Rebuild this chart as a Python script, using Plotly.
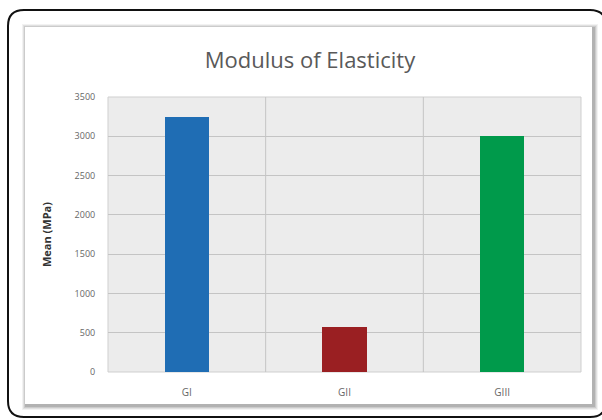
import plotly.graph_objects as go

categories = ["GI", "GII", "GIII"]
values = [3240, 575, 3010]
colors = ["#1f6db4", "#9a1f22", "#009a4b"]
y_ticks = [0, 500, 1000, 1500, 2000, 2500, 3000, 3500]

W, H = 602, 420
L, R, T, B = 108, 21, 97, 48
pw, ph = W - L - R, H - T - B

def px(x):
    return (x - L) / pw

def py(y):
    return (H - B - y) / ph

fig = go.Figure()
fig.add_trace(go.Bar(
    x=categories, y=values,
    marker=dict(color=colors, line=dict(width=0)),
    width=0.28,
))

shapes = []
# outer rounded frame
x0, y0, x1, y1, r = 8, 10, 606, 417, 16
path = (f"M {px(x0 + r)},{py(y0)} L {px(x1 - r)},{py(y0)} "
        f"Q {px(x1)},{py(y0)} {px(x1)},{py(y0 + r)} L {px(x1)},{py(y1 - r)} "
        f"Q {px(x1)},{py(y1)} {px(x1 - r)},{py(y1)} L {px(x0 + r)},{py(y1)} "
        f"Q {px(x0)},{py(y1)} {px(x0)},{py(y1 - r)} L {px(x0)},{py(y0 + r)} "
        f"Q {px(x0)},{py(y0)} {px(x0 + r)},{py(y0)} Z")
shapes.append(dict(type="path", xref="paper", yref="paper", path=path,
                   line=dict(color="#111111", width=2), fillcolor="white", layer="below"))
# card shadow
for i, op in enumerate([0.05, 0.07, 0.09, 0.12]):
    d = 4 - i
    shapes.append(dict(type="rect", xref="paper", yref="paper",
                       x0=px(25 - d + 1), x1=px(593 + d + 1), y0=py(27 - d + 1), y1=py(405 + d + 1),
                       line=dict(width=0), fillcolor=f"rgba(0,0,0,{op})", layer="below"))
# card
shapes.append(dict(type="rect", xref="paper", yref="paper",
                   x0=px(25), x1=px(592), y0=py(27), y1=py(404),
                   line=dict(width=0), fillcolor="white", layer="below"))
# plot background
shapes.append(dict(type="rect", xref="paper", yref="paper", x0=0, x1=1, y0=0, y1=1,
                   line=dict(color="#cfcfcf", width=1), fillcolor="#ececec", layer="below"))
# vertical category separators
for xv in [0.5, 1.5]:
    shapes.append(dict(type="line", xref="x", yref="paper", x0=xv, x1=xv, y0=0, y1=1,
                       line=dict(color="#c4c4c4", width=1), layer="below"))

fig.update_layout(
    width=W, height=H,
    margin=dict(l=L, r=R, t=T, b=B),
    paper_bgcolor="white",
    plot_bgcolor="rgba(0,0,0,0)",
    shapes=shapes,
    showlegend=False,
    bargap=0,
    title=dict(text="Modulus of Elasticity", x=(310) / W, xanchor="center",
               y=1 - 60 / H, yanchor="middle",
               font=dict(family="Open Sans, sans-serif", size=22, color="#595959")),
    xaxis=dict(type="category", range=[-0.5, 2.5], showgrid=False, zeroline=False,
               showline=False, ticks="outside", ticklen=11, tickcolor="rgba(0,0,0,0)",
               tickfont=dict(family="Open Sans, sans-serif", size=10, color="#666666")),
    yaxis=dict(range=[0, 3500], tickvals=y_ticks, showgrid=True, gridcolor="#c4c4c4",
               gridwidth=1, zeroline=False, showline=False, ticks="outside", ticklen=10,
               tickcolor="rgba(0,0,0,0)",
               tickfont=dict(family="Open Sans, sans-serif", size=9, color="#666666"),
               title=dict(text="<b>Mean (MPa)</b>", standoff=20,
                          font=dict(family="Open Sans, sans-serif", size=11, color="#333333"))),
)

fig.write_html("out.html", config={"displayModeBar": False},
               post_script="document.body.style.margin='0';")
